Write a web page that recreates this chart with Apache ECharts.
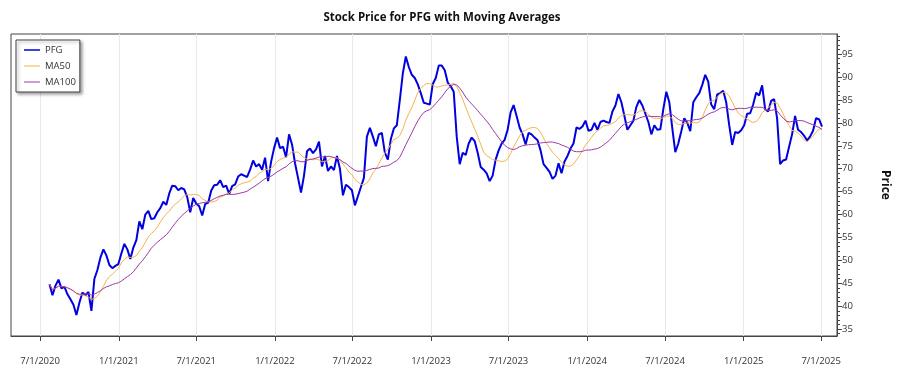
<!DOCTYPE html>
<html>
<head>
<meta charset="utf-8">
<script src="https://cdn.jsdelivr.net/npm/echarts@6/dist/echarts.min.js"></script>
<style>
  html, body { margin: 0; padding: 0; background: #fff; }
  #main { width: 900px; height: 375px; }
</style>
</head>
<body>
<div id="main"></div>
<script>
// weekly closes, first week starting 2020-07-23
const firstWeek = [2020, 6, 23];
const pfgClose = [
  44.8, 42.4, 44.5, 45.8, 43.9, 44.2, 42.6, 41.5, 40.3, 38.1,
  40.8, 43.0, 42.4, 43.1, 39.0, 46.0, 47.9, 50.6, 52.4, 51.1,
  49.0, 48.3, 48.8, 49.2, 51.5, 53.6, 52.4, 50.3, 52.8, 54.4,
  58.5, 56.8, 60.0, 60.8, 59.0, 59.2, 60.5, 61.4, 62.8, 62.1,
  64.6, 66.3, 66.2, 65.3, 65.8, 65.5, 63.8, 60.5, 63.6, 62.4,
  61.8, 59.8, 62.3, 62.6, 65.2, 66.4, 66.5, 67.5, 66.0, 66.3,
  64.5, 66.2, 66.6, 68.3, 68.8, 68.5, 68.2, 69.8, 71.8, 70.5,
  71.0, 69.8, 72.4, 67.3, 71.5, 74.5, 76.8, 74.5, 74.8, 72.5,
  77.5, 75.3, 71.2, 68.0, 64.8, 68.5, 73.8, 74.4, 73.4, 74.2,
  75.9, 70.5, 72.8, 69.5, 70.5, 69.7, 72.8, 70.0, 64.2, 66.5,
  66.0, 65.3, 62.0, 64.0, 66.0, 68.0, 77.0, 78.9, 77.0, 74.9,
  77.5, 77.8, 73.5, 72.0, 76.5, 78.8, 79.5, 85.0, 90.8, 94.5,
  92.2, 90.5, 89.8, 88.4, 86.5, 84.4, 84.2, 84.0, 88.5, 89.8,
  92.5, 92.5, 91.5, 88.8, 88.0, 86.8, 77.0, 71.0, 73.5, 73.0,
  75.5, 76.8, 76.0, 73.5, 70.4, 69.8, 69.0, 67.3, 68.5, 72.0,
  74.0, 75.5, 76.3, 78.5, 82.3, 83.9, 81.5, 79.0, 77.5, 75.3,
  77.8, 77.5, 76.8, 76.2, 74.0, 71.0, 70.2, 69.3, 67.8, 68.5,
  71.2, 69.0, 71.6, 72.8, 74.4, 75.5, 79.0, 78.7, 79.2, 80.5,
  78.3, 78.5, 80.0, 78.5, 80.2, 80.5, 80.2, 80.0, 82.5, 83.8,
  86.3, 84.5, 81.5, 78.5, 79.5, 80.5, 83.5, 85.0, 83.8, 82.0,
  80.2, 77.5, 79.5, 78.5, 78.6, 83.0, 86.8, 84.5, 78.8, 73.6,
  75.5, 78.2, 81.0, 80.0, 78.2, 84.5, 85.6, 86.5, 88.3, 90.5,
  89.0, 84.0, 83.0, 86.2, 86.5, 87.0, 84.5, 79.5, 75.2, 78.0,
  77.8, 78.4, 79.5, 82.0, 82.1, 84.0, 86.6, 86.0, 88.2, 83.0,
  82.5, 84.8, 85.2, 81.0, 71.0, 71.8, 72.0, 74.8, 77.5, 81.5,
  78.5, 78.0, 77.2, 76.2, 77.0, 78.3, 81.0, 80.8, 79.2
];
const xTickDates = ['2020-07-01', '2021-01-01', '2021-07-01', '2022-01-01', '2022-07-01',
  '2023-01-01', '2023-07-01', '2024-01-01', '2024-07-01', '2025-01-01', '2025-07-01'];
const yTickValues = [35, 40, 45, 50, 55, 60, 65, 70, 75, 80, 85, 90, 95];

// 50 / 100 trading days ~ 10 / 20 weeks
function movingAverage(vals, n) {
  const out = [];
  for (let i = 0; i < vals.length; i++) {
    const from = Math.max(0, i - n + 1);
    let s = 0;
    for (let j = from; j <= i; j++) s += vals[j];
    out.push(+(s / (i - from + 1)).toFixed(2));
  }
  return out;
}

const dates = pfgClose.map((v, i) => new Date(firstWeek[0], firstWeek[1], firstWeek[2] + 7 * i).getTime());
const ma50 = movingAverage(pfgClose, 10);
const ma100 = movingAverage(pfgClose, 20);
const pair = arr => arr.map((v, i) => [dates[i], v]);

const xTicks = xTickDates.map(s => { const p = s.split('-'); return new Date(+p[0], +p[1] - 1, +p[2]).getTime(); });
const yMinor = [];
for (let v = 34; v <= 99; v++) yMinor.push(v);

// legend line icons (tiny corner dots keep the box 20x10 so the bar keeps its thickness)
const anchors = 'M0,0 L0.01,0 L0.01,0.01 Z M20,10 L19.99,10 L19.99,9.99 Z ';
const thickLine = 'path://' + anchors + 'M0,4 L20,4 L20,6 L0,6 Z';
const thinLine = 'path://' + anchors + 'M0,4.5 L20,4.5 L20,5.5 L0,5.5 Z';

const chart = echarts.init(document.getElementById('main'));
const fontFam = '"Open Sans", "Noto Sans", sans-serif';
const gridW = 900 - 11 - 63;

const option = {
  backgroundColor: '#fff',
  animation: false,
  title: {
    text: 'Stock Price for PFG with Moving Averages',
    left: 437, top: 7, textAlign: 'center',
    textStyle: { fontSize: 11.5, fontWeight: 'bold', color: '#111', fontFamily: fontFam }
  },
  legend: {
    orient: 'vertical', left: 16, top: 40,
    backgroundColor: '#fff', borderColor: '#444', borderWidth: 1,
    shadowBlur: 3, shadowOffsetX: 2, shadowOffsetY: 2, shadowColor: 'rgba(0,0,0,0.35)',
    padding: [5, 4, 5, 8], itemGap: 6, itemWidth: 16, itemHeight: 10,
    textStyle: { fontSize: 9.5, color: '#333', fontFamily: fontFam },
    data: [
      { name: 'PFG', icon: thickLine },
      { name: 'MA50', icon: thinLine },
      { name: 'MA100', icon: thinLine }
    ]
  },
  grid: {
    left: 11, right: 63, top: 34, bottom: 39,
    show: true, borderColor: '#444', borderWidth: 1
  },
  xAxis: {
    type: 'value',
    min: new Date(2020, 3, 24).getTime(),
    max: new Date(2025, 7, 7).getTime(),
    axisLine: { lineStyle: { color: '#444' } },
    axisTick: { customValues: xTicks, length: 5, lineStyle: { color: '#444' } },
    axisLabel: {
      customValues: xTicks, margin: 20, fontSize: 9.5, color: '#333', fontFamily: fontFam,
      formatter: v => { const d = new Date(v); return (d.getMonth() + 1) + '/' + d.getDate() + '/' + d.getFullYear(); }
    },
    splitLine: { show: true, lineStyle: { color: '#e8e8e8', width: 1 } }
  },
  yAxis: [{
    type: 'value', position: 'right', min: 33.5, max: 99.4,
    name: 'Price', nameLocation: 'middle', nameRotate: -90, nameGap: 42,
    nameTextStyle: { fontSize: 12, fontWeight: 'bold', color: '#111', fontFamily: fontFam },
    axisLine: { show: true, lineStyle: { color: '#444' } },
    axisTick: { show: true, customValues: yTickValues, length: 5, lineStyle: { color: '#444' } },
    axisLabel: { customValues: yTickValues, margin: 5, fontSize: 9.5, color: '#333', fontFamily: fontFam },
    splitLine: { show: false }
  }, {
    // minor ticks, shifted across onto the right edge
    type: 'value', position: 'left', offset: -gridW, min: 33.5, max: 99.4,
    axisLine: { show: false },
    axisTick: { show: true, inside: true, customValues: yMinor, length: 3, lineStyle: { color: '#444' } },
    axisLabel: { show: false },
    splitLine: { show: false }
  }],
  series: [
    { name: 'PFG', type: 'line', data: pair(pfgClose), showSymbol: false, symbol: 'none',
      lineStyle: { color: '#0000e0', width: 2 }, itemStyle: { color: '#0000e0' }, z: 3 },
    { name: 'MA50', type: 'line', data: pair(ma50), showSymbol: false, symbol: 'none',
      lineStyle: { color: '#f4b350', width: 1 }, itemStyle: { color: '#f4b350' }, z: 4 },
    { name: 'MA100', type: 'line', data: pair(ma100), showSymbol: false, symbol: 'none',
      lineStyle: { color: '#9c3aa5', width: 1 }, itemStyle: { color: '#9c3aa5' }, z: 5 }
  ]
};

chart.setOption(option);
window.onresize = () => chart.resize();
</script>
</body>
</html>
